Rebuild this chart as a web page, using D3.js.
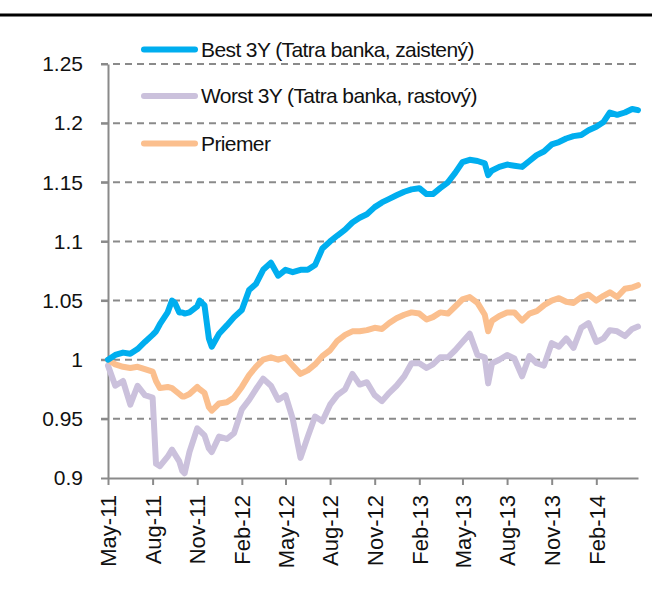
<!DOCTYPE html>
<html>
<head>
<meta charset="utf-8">
<script src="https://cdn.jsdelivr.net/npm/d3@7"></script>
<style>
  body { margin: 0; background: #fff; }
  svg text { font-family: "Liberation Sans", Arial, sans-serif; fill: #111; }
</style>
</head>
<body>
<div id="chart"></div>
<script>
// ------------------------------
//  Best / Worst 3Y vs. priemer
// ------------------------------

// Dátumy (pol-mesačne + pár extrémov)
const dates = [
  "2011-05-01","2011-05-16","2011-06-01","2011-06-16","2011-07-01","2011-07-16",
  "2011-08-01","2011-08-08","2011-08-16","2011-09-01","2011-09-10","2011-09-16",
  "2011-09-25","2011-10-01","2011-10-06","2011-10-16","2011-11-01","2011-11-06",
  "2011-11-16","2011-11-25","2011-12-01","2011-12-16","2012-01-01","2012-01-16",
  "2012-02-01","2012-02-16","2012-03-01","2012-03-16","2012-04-01","2012-04-16",
  "2012-05-01","2012-05-16","2012-06-01","2012-06-16","2012-07-01","2012-07-16",
  "2012-08-01","2012-08-16","2012-09-01","2012-09-16","2012-10-01","2012-10-16",
  "2012-11-01","2012-11-16","2012-12-01","2012-12-16","2013-01-01","2013-01-16",
  "2013-02-01","2013-02-16","2013-03-01","2013-03-16","2013-04-01","2013-04-16",
  "2013-05-01","2013-05-16","2013-06-01","2013-06-16","2013-06-23","2013-07-01",
  "2013-07-16","2013-08-01","2013-08-16","2013-09-01","2013-09-16","2013-10-01",
  "2013-10-16","2013-11-01","2013-11-16","2013-12-01","2013-12-16","2014-01-01",
  "2014-01-16","2014-02-01","2014-02-16","2014-03-01","2014-03-16","2014-04-01",
  "2014-04-16","2014-04-28"
];

const best = [
  1.000,1.004,1.006,1.005,1.009,1.015,
  1.021,1.024,1.030,1.040,1.050,1.048,
  1.040,1.040,1.039,1.040,1.045,1.050,
  1.046,1.018,1.011,1.022,1.029,1.036,
  1.042,1.059,1.064,1.076,1.082,1.071,
  1.076,1.074,1.076,1.076,1.080,1.094,
  1.100,1.105,1.110,1.116,1.120,1.123,
  1.129,1.133,1.136,1.139,1.142,1.144,
  1.145,1.140,1.140,1.145,1.150,1.158,
  1.167,1.169,1.168,1.166,1.156,1.160,
  1.163,1.165,1.164,1.163,1.168,1.173,
  1.176,1.182,1.184,1.187,1.189,1.190,
  1.194,1.197,1.201,1.209,1.207,1.209,
  1.212,1.211
];

const worst = [
  0.995,0.978,0.982,0.962,0.978,0.970,
  0.968,0.912,0.910,0.918,0.924,0.920,
  0.914,0.906,0.904,0.922,0.942,0.940,
  0.936,0.925,0.922,0.935,0.933,0.938,
  0.958,0.966,0.975,0.984,0.978,0.966,
  0.970,0.950,0.917,0.935,0.952,0.948,
  0.962,0.970,0.975,0.988,0.979,0.981,
  0.970,0.965,0.972,0.978,0.986,0.997,
  0.997,0.993,0.996,1.002,1.002,1.008,
  1.015,1.022,1.004,1.002,0.980,0.997,
  1.000,1.004,1.001,0.986,1.003,0.997,
  0.995,1.014,1.011,1.018,1.010,1.027,
  1.031,1.015,1.018,1.025,1.024,1.020,
  1.026,1.028
];

const priemer = [
  1.000,0.996,0.994,0.993,0.994,0.992,
  0.990,0.982,0.976,0.977,0.976,0.974,
  0.971,0.969,0.969,0.971,0.977,0.975,
  0.972,0.960,0.957,0.963,0.964,0.968,
  0.977,0.987,0.994,1.000,1.002,1.000,
  1.002,0.995,0.988,0.991,0.996,1.003,
  1.008,1.016,1.021,1.024,1.024,1.025,
  1.027,1.026,1.031,1.035,1.038,1.040,
  1.039,1.034,1.036,1.040,1.039,1.045,
  1.051,1.053,1.048,1.038,1.024,1.033,
  1.037,1.040,1.040,1.033,1.039,1.041,
  1.046,1.050,1.052,1.049,1.048,1.053,
  1.055,1.050,1.054,1.057,1.053,1.060,
  1.061,1.063
];

const seriesNames  = ["Best 3Y (Tatra banka, zaistený)", "Worst 3Y (Tatra banka, rastový)", "Priemer"];
const seriesColors = ["#00aeef", "#cbc1dc", "#fbbf8e"];
const yTicks = [0.9, 0.95, 1, 1.05, 1.1, 1.15, 1.2, 1.25];
const xTickLabels = ["May-11","Aug-11","Nov-11","Feb-12","May-12","Aug-12",
                     "Nov-12","Feb-13","May-13","Aug-13","Nov-13","Feb-14"];

// 1. Rozmery
const W = 652, H = 590;
const margin = { top: 64, right: 14, bottom: 112, left: 108 },
      width  = W - margin.left - margin.right,
      height = H - margin.top - margin.bottom;

const svgRoot = d3.select("#chart")
  .append("svg")
    .attr("width", W)
    .attr("height", H);

// horná čiara
svgRoot.append("line")
  .attr("x1", 0).attr("x2", W)
  .attr("y1", 15).attr("y2", 15)
  .attr("stroke", "#000")
  .attr("stroke-width", 3);

const svg = svgRoot.append("g")
  .attr("transform", `translate(${margin.left},${margin.top})`);

// 2. Škály
const parseDate = d3.utcParse("%Y-%m-%d");
const parseTick = d3.utcParse("%b-%y");
const dateObjs = dates.map(parseDate);

const x = d3.scaleUtc()
  .domain(d3.extent(dateObjs))
  .range([0, width]);

const y = d3.scaleLinear()
  .domain([0.9, 1.25])
  .range([height, 0]);

// 3. Mriežka (prerušované čiary)
svg.append("g")
  .selectAll("line")
  .data(yTicks.filter(d => d > 0.9))
  .join("line")
    .attr("x1", -7).attr("x2", width)
    .attr("y1", d => y(d)).attr("y2", d => y(d))
    .attr("stroke", "#8a8a8a")
    .attr("stroke-width", 2)
    .attr("stroke-dasharray", "7,5");

// 4. Osi
const axisColor = "#8a8a8a";

const yAxis = svg.append("g")
  .call(d3.axisLeft(y)
    .tickValues(yTicks)
    .tickSize(7)
    .tickSizeOuter(0)
    .tickPadding(18)
    .tickFormat(d => String(d)));

const xAxis = svg.append("g")
  .attr("transform", `translate(0,${height})`)
  .call(d3.axisBottom(x)
    .tickValues(xTickLabels.map(parseTick))
    .tickSize(7)
    .tickSizeOuter(0)
    .tickFormat(d3.utcFormat("%b-%y")));

[yAxis, xAxis].forEach(a => {
  a.select(".domain").attr("stroke", axisColor).attr("stroke-width", 2);
  a.selectAll(".tick line").attr("stroke", axisColor).attr("stroke-width", 2);
});

yAxis.selectAll("text")
  .style("font-size", "21px")
  .attr("fill", "#111");

xAxis.selectAll("text")
  .style("font-size", "22px")
  .style("text-anchor", "end")
  .attr("fill", "#111")
  .attr("transform", "rotate(-90)")
  .attr("x", -17)
  .attr("y", 0)
  .attr("dy", "0.35em");

// 5. Čiary
const series = [
  { name: seriesNames[0], color: seriesColors[0], values: best },
  { name: seriesNames[1], color: seriesColors[1], values: worst },
  { name: seriesNames[2], color: seriesColors[2], values: priemer }
];

const line = d3.line()
  .x((d, i) => x(dateObjs[i]))
  .y(d => y(d));

// poradie kreslenia: worst, priemer, best
[1, 2, 0].forEach(k => {
  svg.append("path")
    .datum(series[k].values)
    .attr("fill", "none")
    .attr("stroke", series[k].color)
    .attr("stroke-width", 6)
    .attr("stroke-linejoin", "round")
    .attr("stroke-linecap", "round")
    .attr("d", line);
});

// 6. Legenda
const legendY = [49.5, 96, 143.5];
const legend = svgRoot.append("g");

series.forEach((s, i) => {
  const g = legend.append("g").attr("transform", `translate(0,${legendY[i]})`);
  g.append("line")
    .attr("x1", 144).attr("x2", 195)
    .attr("stroke", s.color)
    .attr("stroke-width", 6)
    .attr("stroke-linecap", "round");
  g.append("text")
    .attr("x", 201)
    .attr("dy", "0.35em")
    .style("font-size", "21px")
    .style("letter-spacing", "-0.6px")
    .text(s.name);
});
</script>
</body>
</html>
